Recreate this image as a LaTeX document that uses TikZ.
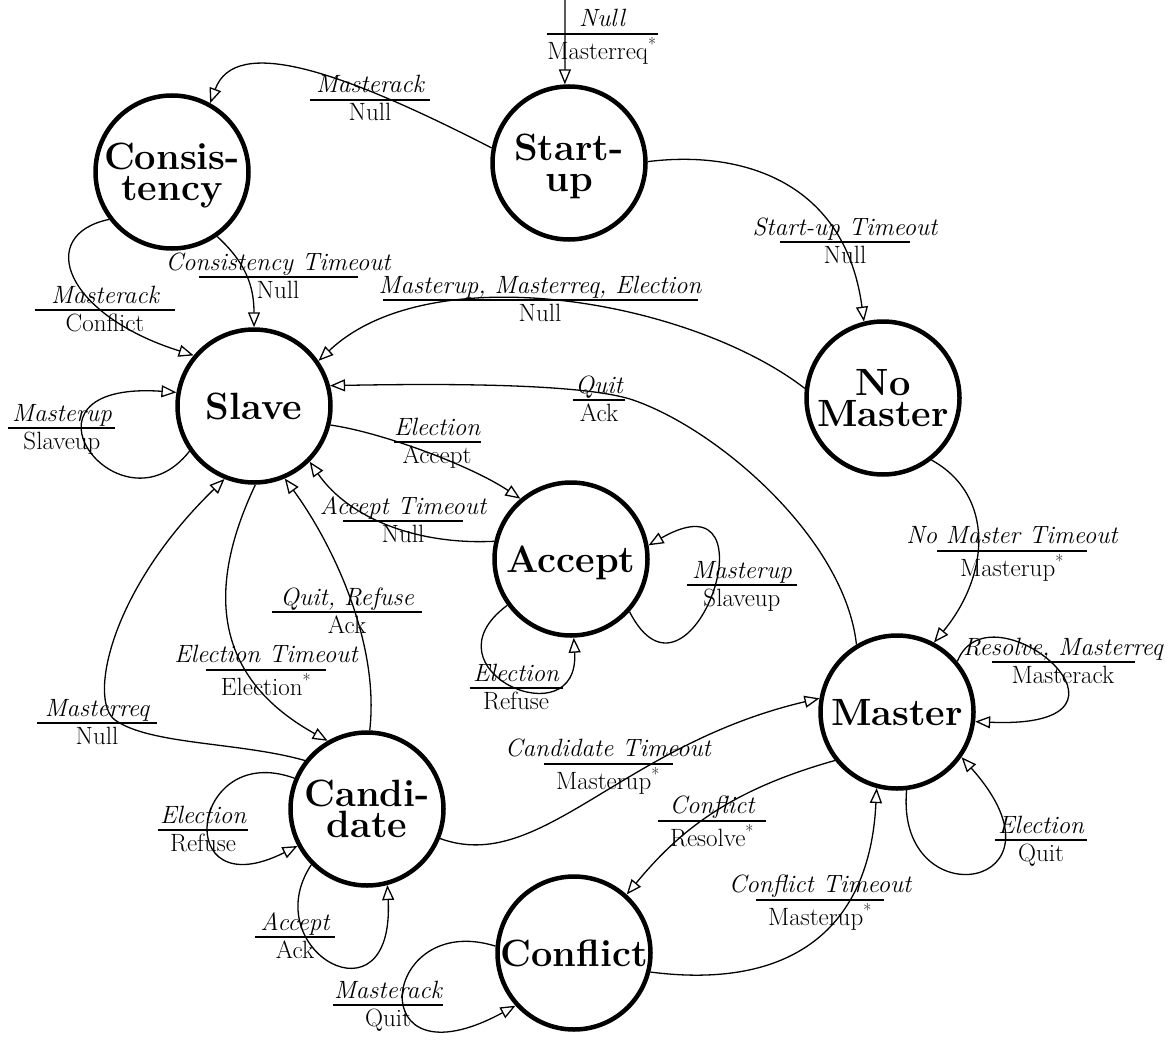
\documentclass[tikz,border=0pt]{standalone}
\usepackage{fontspec}
\usetikzlibrary{arrows.meta}
\newcommand\fr[3]{\vbox{\offinterlineskip\halign{\hfil##\hfil\cr
  \vrule width0pt height18pt depth6pt\itshape #1\cr
  \noalign{\kern-0.25pt}
  \vrule width #3pt height2.5pt depth0pt\cr
  \noalign{\kern1.75pt}
  \vrule width0pt height18pt depth6pt #2\cr}}}
\tikzset{
  state/.style={circle, draw, line width=4.5pt, minimum size=153pt, inner sep=0pt,
    align=center, font=\fontsize{38}{31}\selectfont\bfseries, text depth=0pt},
  lbl/.style={inner sep=0pt, font=\fontsize{25}{28}\selectfont},
  tr/.style={line width=1.3pt, -{Triangle[open,length=15pt,width=12pt]}}
}
\begin{document}
\begin{tikzpicture}[x=1pt,y=-1pt]
\path[fill=white] (0,0) rectangle (1172,1043);
\useasboundingbox (0,0) rectangle (1172,1043);

% states
\node[state] (cons)   at (172,172) {Consis-\\tency};
\node[state] (start)  at (569,163) {Start-\\up};
\node[state] (nom)    at (883,398) {No\\Master};
\node[state] (slave)  at (254,406) {Slave};
\node[state] (accept) at (571,559) {Accept};
\node[state] (master) at (897,712) {Master};
\node[state] (cand)   at (367,809) {Candi-\\date};
\node[state] (confl)  at (574,953) {Conflict};

\coordinate (in0) at (565,0);

% transitions
\draw[tr] (in0) -- (start.93);
\draw[tr] (start.169) .. controls (340,70) and (235,35) .. (cons.61);
\draw[tr] (start.1) .. controls (740,150) and (845,180) .. (nom.104);
\draw[tr] (cons.-55) .. controls (245,262) and (254,285) .. (slave.90);
\draw[tr] (cons.217) .. controls (35,235) and (65,315) .. (slave.140);
\draw[tr] (nom.173) .. controls (690,300) and (430,255) .. (slave.35);
\draw[tr] (master.121) .. controls (845,540) and (720,430) .. (633,400)
          .. controls (580,382) and (420,384) .. (slave.15);
\draw[tr] (slave.-14) .. controls (380,432) and (470,465) .. (accept.130);
\draw[tr] (accept.167) .. controls (420,545) and (350,520) .. (slave.-45);
\draw[tr] (accept.-42) .. controls (690,730) and (780,470) .. (accept.10);
\draw[tr] (accept.216) .. controls (420,670) and (580,740) .. (accept.-88);
\draw[tr] (slave.215) .. controls (120,540) and (0,380) .. (slave.170);
\draw[tr] (slave.-89) .. controls (215,570) and (200,670) .. (cand.120);
\draw[tr] (cand.88) .. controls (380,640) and (330,540) .. (slave.-67);
\draw[tr] (cand.142) .. controls (240,742) and (150,745) .. (115,720)
          .. controls (88,700) and (110,590) .. (slave.-112);
\draw[tr] (cand.157) .. controls (190,740) and (170,910) .. (cand.208);
\draw[tr] (cand.225) .. controls (255,950) and (395,1030) .. (cand.-75);
\draw[tr] (cand.-22) .. controls (540,875) and (620,745) .. (master.170);
\draw[tr] (master.218) .. controls (730,790) and (680,830) .. (confl.48);
\draw[tr] (confl.-14) .. controls (790,990) and (870,930) .. (master.-105);
\draw[tr] (master.-83) .. controls (895,920) and (1080,890) .. (master.-35);
\draw[tr] (master.40) .. controls (990,580) and (1170,730) .. (master.-7);
\draw[tr] (nom.-52) .. controls (995,495) and (990,575) .. (master.62);
\draw[tr] (confl.175) .. controls (380,910) and (360,1090) .. (confl.222);

% labels
\node[lbl] (l1)  at (602,37)   {\fr{Null}{Masterreq\textsuperscript{*}}{111}};
\node[lbl] (l2)  at (370,101)  {\fr{Masterack}{Null}{120}};
\node[lbl] (l3)  at (845,243)  {\fr{Start-up Timeout}{Null}{130}};
\node[lbl] (l4)  at (278,278)  {\fr{Consistency Timeout}{Null}{159}};
\node[lbl] (l5)  at (105,311)  {\fr{Masterack}{Conflict}{140}};
\node[lbl] (l6)  at (540,301)  {\fr{Masterup, Masterreq, Election}{Null}{315}};
\node[lbl] (l7)  at (599,401)  {\fr{Quit}{Ack}{52}};
\node[lbl] (l8)  at (437,443)  {\fr{Election}{Accept}{87}};
\node[lbl] (l9)  at (403,522)  {\fr{Accept Timeout}{Null}{120}};
\node[lbl] (l10) at (742,586)  {\fr{Masterup}{Slaveup}{110}};
\node[lbl] (l11) at (516,689)  {\fr{Election}{Refuse}{93}};
\node[lbl] (l12) at (62,429)   {\fr{Masterup}{Slaveup}{107}};
\node[lbl] (l13) at (266,673)  {\fr{Election Timeout}{Election\textsuperscript{*}}{120}};
\node[lbl] (l14) at (347,613)  {\fr{Quit, Refuse}{Ack}{150}};
\node[lbl] (l15) at (97,724)   {\fr{Masterreq}{Null}{120}};
\node[lbl] (l16) at (203,831)  {\fr{Election}{Refuse}{90}};
\node[lbl] (l17) at (295,938)  {\fr{Accept}{Ack}{80}};
\node[lbl] (l18) at (608,767)  {\fr{Candidate Timeout}{Masterup\textsuperscript{*}}{129}};
\node[lbl] (l19) at (712,824)  {\fr{Conflict}{Resolve\textsuperscript{*}}{108}};
\node[lbl] (l20) at (820,903)  {\fr{Conflict Timeout}{Masterup\textsuperscript{*}}{128}};
\node[lbl] (l21) at (1041,841) {\fr{Election}{Quit}{92}};
\node[lbl] (l22) at (1063,663) {\fr{Resolve, Masterreq}{Masterack}{143}};
\node[lbl] (l23) at (1012,554) {\fr{No Master Timeout}{Masterup\textsuperscript{*}}{150}};
\node[lbl] (l24) at (388,1006) {\fr{Masterack}{Quit}{110}};
\end{tikzpicture}
\end{document}
